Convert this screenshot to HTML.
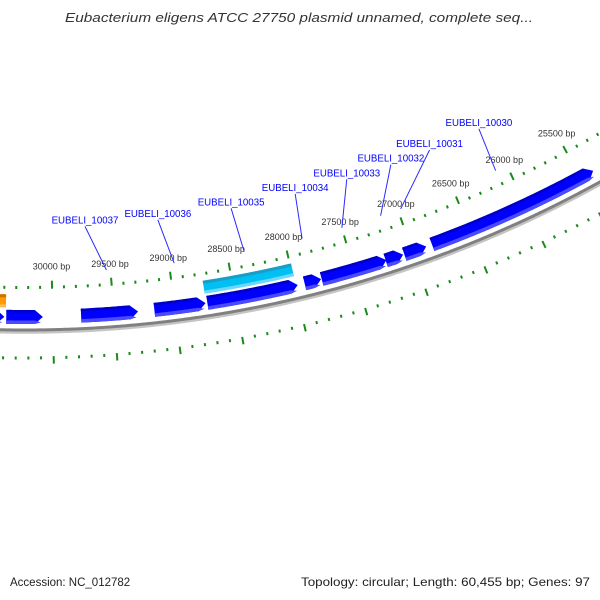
<!DOCTYPE html>
<html><head><meta charset="utf-8"><style>
html,body{margin:0;padding:0;background:#fff;}
svg{display:block;font-family:"Liberation Sans","DejaVu Sans",sans-serif;}
</style></head><body>
<svg id="map" width="600" height="600" viewBox="0 0 600 600" xmlns="http://www.w3.org/2000/svg">
<rect width="600" height="600" fill="#fff"/>
<text x="299" y="22" text-anchor="middle" font-size="13" font-style="italic" fill="#333" textLength="468" lengthAdjust="spacingAndGlyphs">Eubacterium eligens ATCC 27750 plasmid unnamed, complete seq...</text>
<g id="ticks"></g>
<g id="backbone"></g>
<g id="genes"></g>
<g id="labels"></g>
<text x="10" y="586" font-size="11.5" fill="#222">Accession: NC_012782</text>
<text x="590" y="586" text-anchor="end" font-size="12" fill="#222" textLength="289" lengthAdjust="spacingAndGlyphs">Topology: circular; Length: 60,455 bp; Genes: 97</text>
</svg>
<script>
const genomeLength = 60455;
const tickStart = 23000;
const tickEnd = 31600;
const tickLabelMin = 25500;
const tickLabelMax = 30000;
const geneNames = ["EUBELI_10038","EUBELI_10037","EUBELI_10036","EUBELI_10035","EUBELI_10034","EUBELI_10033","EUBELI_10032","EUBELI_10031","EUBELI_10030","EUBELI_10039"];
const geneStarts = [30081,29301,28745,27977,27780,27224,27080,26880,25380,30395];
const geneEnds   = [30380,29768,29167,28730,27919,27775,27230,27070,26830,30800];
const labelledGenes = ["EUBELI_10037","EUBELI_10036","EUBELI_10035","EUBELI_10034","EUBELI_10033","EUBELI_10032","EUBELI_10031","EUBELI_10030"];
const labelPositions = [29696,29049,28393,27812,27338,26927,26561,26086];
const featureNames = ["misc-feature-cyan","misc-feature-orange"];
const featureStarts = [27990,30384];
const featureEnds = [28740,30900];

const NS="http://www.w3.org/2000/svg";
const CX=25, CY=-860;
function ang(bp){return (88.65+(bp-30000)*360/genomeLength)*Math.PI/180;}
function pt(r,bp){const a=ang(bp);return [CX+r*Math.cos(a),CY+r*Math.sin(a)];}
function mk(tag,attrs,parent){const e=document.createElementNS(NS,tag);for(const k in attrs)e.setAttribute(k,attrs[k]);parent.appendChild(e);return e;}
function arcPts(r,b0,b1){const n=Math.max(2,Math.ceil(Math.abs(b1-b0)/20));const a=[];for(let i=0;i<=n;i++){a.push(pt(r,b0+(b1-b0)*i/n));}return a;}
function ptsStr(a){return a.map(p=>p[0].toFixed(2)+","+p[1].toFixed(2)).join(" ");}

// tick rings
const tg=document.getElementById('ticks');
for(let bp=tickStart;bp<=tickEnd;bp+=100){
  const major=bp%500===0;
  let p0=pt(major?1141:1146,bp), p1=pt(1149,bp);
  let l=mk('line',{x1:p0[0],y1:p0[1],x2:p1[0],y2:p1[1],stroke:'#1a8a1a','stroke-width':2},tg);
  
  
  p0=pt(1216.5,bp); p1=pt(major?1224:1219.5,bp);
  l=mk('line',{x1:p0[0],y1:p0[1],x2:p1[0],y2:p1[1],stroke:'#1a8a1a','stroke-width':2},tg);
  
  
  if(major && bp>=tickLabelMin && bp<=tickLabelMax){
    const q=pt(1127,bp);
    const t=mk('text',{x:q[0],y:q[1]+3,'text-anchor':'middle','font-size':9,fill:'#333'},tg);
    t.textContent=bp+" bp";
    
    
  }
}

// backbone
const bg=document.getElementById('backbone');
let bb=mk('polyline',{points:ptsStr(arcPts(1192.5,tickStart,tickEnd)),fill:'none',stroke:'#c4c4c4','stroke-width':2.5},bg);


bb=mk('polyline',{points:ptsStr(arcPts(1190,tickStart,tickEnd)),fill:'none',stroke:'#808080','stroke-width':3},bg);



// features (no arrow)
const gg=document.getElementById('genes');
const fCols=[["#00bff2","#1a9ec4","#6ad8ff"],["#ff9900","#d07000","#ffbb55"]];
featureNames.forEach((n,i)=>{
  const r0=1154.5,r1=1167.5;
  const poly=arcPts(r0,featureStarts[i],featureEnds[i]).concat(arcPts(r1,featureEnds[i],featureStarts[i]));
  let p=mk('polygon',{points:ptsStr(poly),fill:fCols[i][0]},gg);
  
  
  p=mk('polygon',{points:ptsStr(arcPts(r0,featureStarts[i],featureEnds[i]).concat(arcPts(r0+3,featureEnds[i],featureStarts[i]))),fill:fCols[i][1]},gg);
  
  
  p=mk('polygon',{points:ptsStr(arcPts(r1-3,featureStarts[i],featureEnds[i]).concat(arcPts(r1,featureEnds[i],featureStarts[i]))),fill:fCols[i][2]},gg);
  
  
});

// genes with arrows pointing toward start
geneNames.forEach((n,i)=>{
  const s=geneStarts[i], e=geneEnds[i];
  const r0=1170,r1=1184,rm=1177;
  const head=Math.min(65,(e-s)*0.5);
  const sh=s+head;
  const poly=arcPts(r0,e,sh).concat([pt(rm,s)]).concat(arcPts(r1,sh,e));
  let p=mk('polygon',{points:ptsStr(poly),fill:'#0000ff'},gg);
  
  
  p=mk('polygon',{points:ptsStr(arcPts(r0,e,sh).concat(arcPts(r0+2.5,sh,e))),fill:'#0000c4'},gg);
  
  
  p=mk('polygon',{points:ptsStr(arcPts(r1-3.5,e,sh).concat([pt(r1-1.5,s+head*0.25)]).concat(arcPts(r1,sh,e))),fill:'#4a4aff'},gg);
  
  
});

// gene labels
const lg=document.getElementById('labels');
labelledGenes.forEach((n,i)=>{
  const gi=geneNames.indexOf(n);
  const mid=(geneStarts[gi]+geneEnds[gi])/2;
  const a=pt(1088,labelPositions[i]), b=pt(1133,mid);
  let l=mk('line',{x1:a[0],y1:a[1],x2:b[0],y2:b[1],stroke:'#2a2aff','stroke-width':1},lg);
  
  
  const t=mk('text',{x:a[0],y:a[1]-3,'text-anchor':'middle','font-size':9.7,fill:'#0000ff'},lg);
  t.textContent=n;
  
  
});
</script>
</body></html>
